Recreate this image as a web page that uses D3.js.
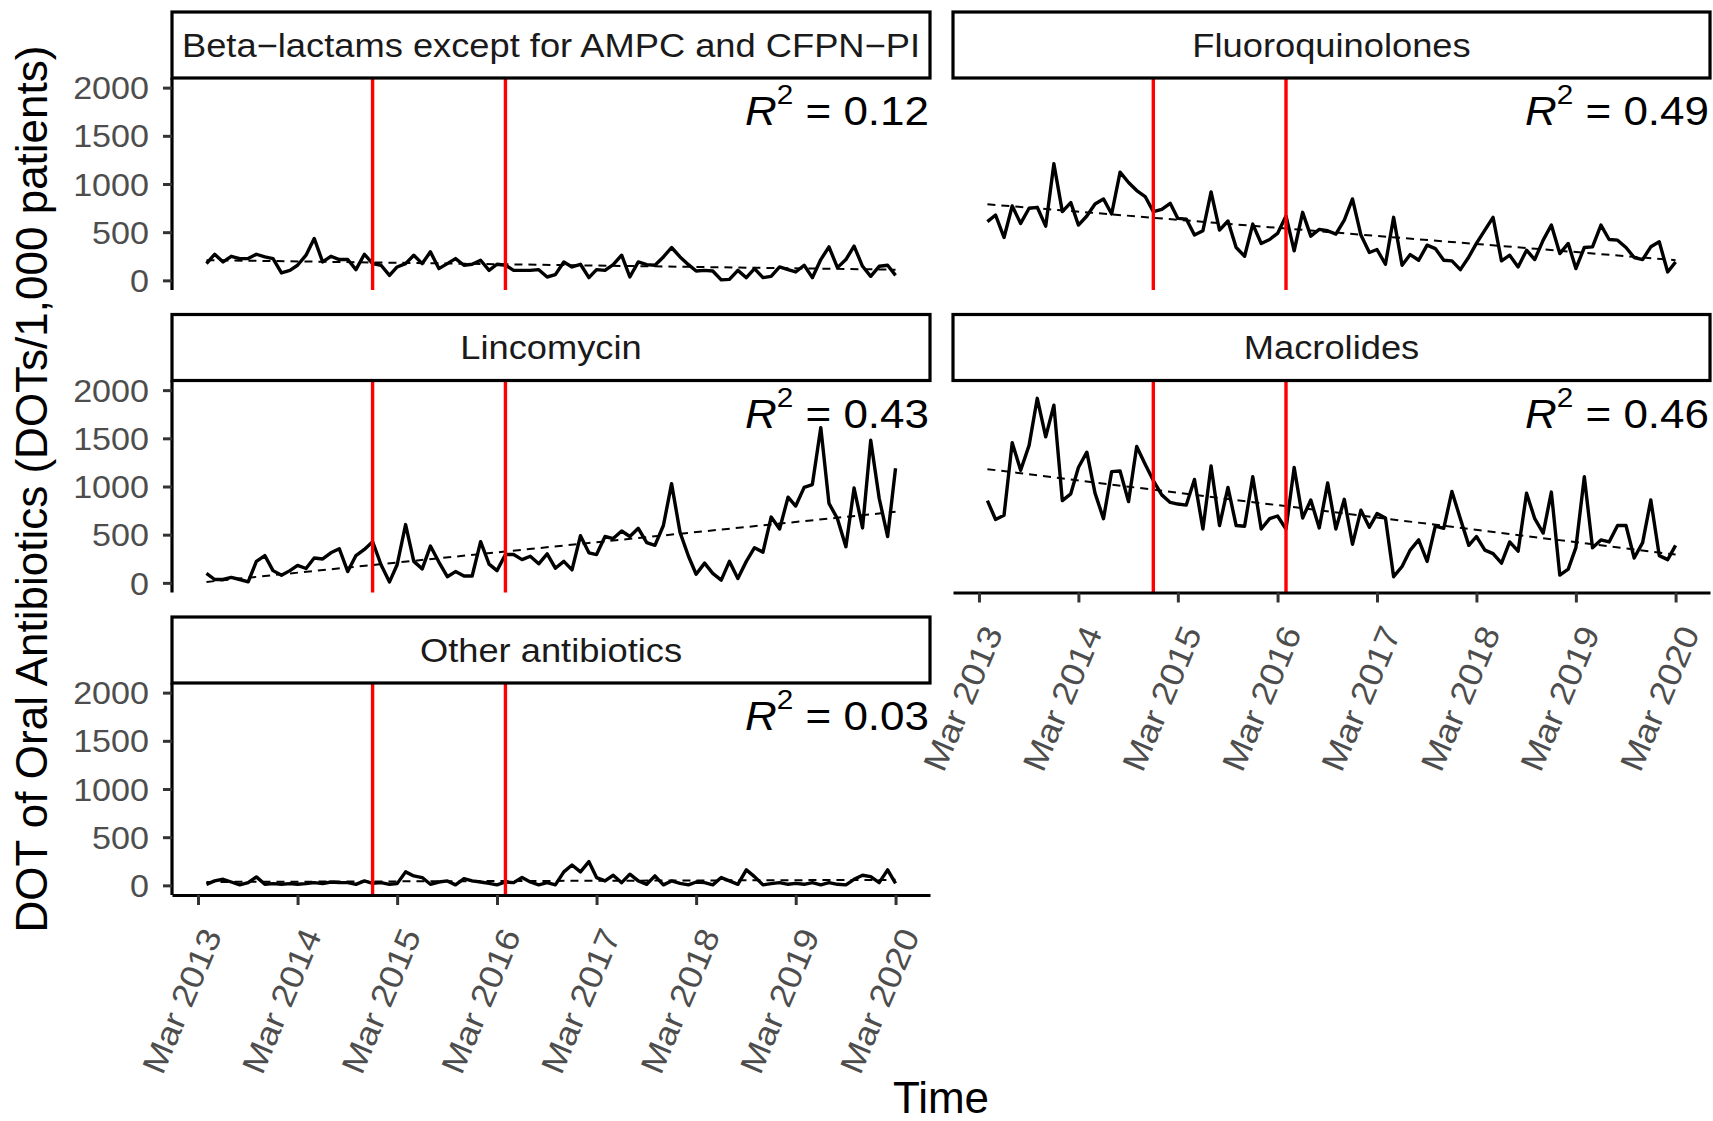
<!DOCTYPE html>
<html>
<head>
<meta charset="utf-8">
<script src="https://cdn.jsdelivr.net/npm/d3@7"></script>
<style>
  html, body { margin: 0; padding: 0; background: #ffffff; }
  svg { display: block; }
</style>
</head>
<body>
<script>
// ---------------- DATA ----------------
const stripLabels = [
  "Beta\u2212lactams except for AMPC and CFPN\u2212PI",
  "Fluoroquinolones",
  "Lincomycin",
  "Macrolides",
  "Other antibiotics"
];
const r2Labels = ["0.12", "0.49", "0.43", "0.46", "0.03"];

// Monthly DOTs/1,000 patients, Apr 2013 – Mar 2020 (84 months)
const betaLactams = [174,271,191,250,226,226,271,243,226,77,104,157,261,435,191,250,216,216,111,271,174,157,52,139,174,261,174,296,122,174,226,157,167,209,104,167,157,104,104,104,111,35,59,191,139,167,28,111,104,163,261,35,191,163,157,243,341,243,163,97,104,97,5,10,104,28,122,28,42,139,111,87,157,28,216,348,132,216,355,146,42,146,157,52];
const fluoroquinolones = [609,678,445,772,591,748,758,563,1210,713,807,574,668,793,845,689,1123,1016,932,870,713,737,800,643,636,470,515,918,522,616,341,250,584,383,424,487,668,306,706,459,529,515,480,626,845,470,289,320,167,654,157,268,209,365,330,209,202,111,243,383,522,654,202,261,139,313,216,417,574,278,383,122,341,348,574,424,417,341,237,216,348,400,87,191];
const lincomycin = [99,35,35,57,35,11,223,283,127,78,127,181,149,258,248,312,354,117,283,347,428,188,10,188,605,223,145,382,216,64,117,71,71,428,195,127,294,294,241,276,198,301,152,223,135,489,312,294,481,460,538,481,566,418,389,595,1030,524,276,89,205,99,28,223,46,223,365,319,683,559,889,797,991,1020,1611,825,666,375,984,570,1480,878,481,1189];
const macrolides = [853,658,701,1455,1168,1427,1915,1515,1844,853,924,1197,1356,931,666,1154,1161,843,1416,1232,1062,913,835,818,807,1073,559,1214,595,991,595,588,1101,559,666,694,559,1197,673,860,570,1037,559,867,400,754,577,719,673,64,170,340,446,223,588,566,949,666,389,481,340,304,205,425,329,931,666,517,942,81,142,365,1101,365,446,425,595,595,258,418,860,283,241,389];
const otherAntibiotics = [11,46,63,35,5,28,88,11,18,11,18,11,18,28,18,35,28,28,11,46,21,28,11,18,140,98,81,11,35,46,5,70,46,35,21,5,35,28,81,35,5,28,5,140,211,140,246,81,46,105,28,116,46,11,98,5,46,21,5,35,28,5,81,46,11,161,91,5,18,28,11,21,11,28,5,28,11,5,63,105,91,28,161,21];

const firstMonth = "2013-04-01";
const interventionDates = ["2014-12-01", "2016-04-01"];
const yTickValues = [0, 500, 1000, 1500, 2000];
const xTickDates = ["2013-03-01","2014-03-01","2015-03-01","2016-03-01","2017-03-01","2018-03-01","2019-03-01","2020-03-01"];
const xTickLabels = ["Mar 2013","Mar 2014","Mar 2015","Mar 2016","Mar 2017","Mar 2018","Mar 2019","Mar 2020"];
const xTitle = "Time";
const yTitle = "DOT of Oral Antibiotics (DOTs/1,000 patients)";

// ---------------- LAYOUT ----------------
const W = 1713, H = 1121;
const FONT = "'Liberation Sans', Arial, Helvetica, sans-serif";
const cols = [{x0: 172, x1: 930}, {x0: 953, x1: 1710}];
const rowPitch = 302.5;
const stripTop0 = 12, stripH = 66, panelBottom0 = 290;
const TXT_SX = 1.1;

const parse = d3.utcParse("%Y-%m-%d");
const start = parse(firstMonth);
const months = d3.utcMonth.range(start, d3.utcMonth.offset(start, betaLactams.length));
const seriesList = [betaLactams, fluoroquinolones, lincomycin, macrolides, otherAntibiotics];

const t0 = months[0].getTime(), t1 = months[months.length - 1].getTime();
const pad = (t1 - t0) * 0.05;

const svg = d3.select("body").append("svg")
  .attr("width", W).attr("height", H)
  .attr("viewBox", `0 0 ${W} ${H}`)
  .style("font-family", FONT);

svg.append("rect").attr("width", W).attr("height", H).attr("fill", "#ffffff");

function linFit(vals) {
  const n = vals.length;
  const xs = d3.range(n);
  const mx = d3.mean(xs), my = d3.mean(vals);
  let sxy = 0, sxx = 0;
  for (let i = 0; i < n; i++) { sxy += (xs[i]-mx)*(vals[i]-my); sxx += (xs[i]-mx)**2; }
  const b = sxy / sxx, a = my - b * mx;
  return i => a + b * i;
}

seriesList.forEach((vals, k) => {
  const r = Math.floor(k / 2), c = k % 2;
  const col = cols[c];
  const sTop = stripTop0 + r * rowPitch;
  const sBot = sTop + stripH;
  const pBot = panelBottom0 + r * rowPitch;
  const isBottom = (k === 3 || k === 4);

  const x = d3.scaleUtc().domain([new Date(t0 - pad), new Date(t1 + pad)]).range([col.x0, col.x1]);
  const y = d3.scaleLinear().domain([-100, 2100]).range([pBot, sBot]);

  const g = svg.append("g");

  // data line
  const line = d3.line().x((d, i) => x(months[i])).y(d => y(d)).curve(d3.curveLinear);
  g.append("path").datum(vals)
    .attr("d", line)
    .attr("fill", "none").attr("stroke", "#000").attr("stroke-width", 3.4)
    .attr("stroke-linejoin", "round").attr("stroke-linecap", "butt");

  // linear fit (dashed)
  const f = linFit(vals);
  g.append("line")
    .attr("x1", x(months[0])).attr("y1", y(f(0)))
    .attr("x2", x(months[months.length-1])).attr("y2", y(f(vals.length-1)))
    .attr("stroke", "#000").attr("stroke-width", 2).attr("stroke-dasharray", "8,6");

  // red intervention lines
  interventionDates.forEach(ds => {
    const xv = x(parse(ds));
    g.append("line").attr("x1", xv).attr("x2", xv).attr("y1", sBot).attr("y2", pBot)
      .attr("stroke", "#FF0000").attr("stroke-width", 3.4);
  });

  // strip
  g.append("rect").attr("x", col.x0).attr("y", sTop)
    .attr("width", col.x1 - col.x0).attr("height", stripH)
    .attr("fill", "#fff").attr("stroke", "#000").attr("stroke-width", 3.2);
  g.append("text")
    .attr("transform", `translate(${(col.x0 + col.x1) / 2},${sTop + stripH / 2}) scale(${TXT_SX},1)`)
    .attr("text-anchor", "middle").attr("dy", "0.36em")
    .attr("font-size", 33).attr("fill", "#1a1a1a")
    .text(stripLabels[k]);

  // R^2 label
  const rt = g.append("text")
    .attr("transform", `translate(${col.x1 - 1},${sBot + 47}) scale(${TXT_SX},1)`)
    .attr("text-anchor", "end").attr("font-size", 40).attr("fill", "#000");
  rt.append("tspan").attr("font-style", "italic").text("R");
  rt.append("tspan").attr("font-size", 27).attr("dy", -21).text("2");
  rt.append("tspan").attr("dy", 21).text(" = " + r2Labels[k]);

  // y axis (left column only)
  if (c === 0) {
    const ya = g.append("g").attr("transform", `translate(${col.x0},0)`)
      .call(d3.axisLeft(y).tickValues(yTickValues).tickFormat(d3.format("d"))
        .tickSize(9).tickSizeOuter(0).tickPadding(0));
    ya.select(".domain").attr("stroke", "#000").attr("stroke-width", 3.2)
      .attr("d", `M0,${pBot}V${sBot}`);
    ya.selectAll(".tick line").attr("stroke", "#333").attr("stroke-width", 3);
    ya.selectAll(".tick text")
      .attr("x", null).attr("dy", "0.36em")
      .attr("transform", `translate(-23,0) scale(${TXT_SX},1)`)
      .attr("text-anchor", "end")
      .attr("font-size", 31).attr("font-family", FONT).attr("fill", "#4D4D4D");
  }

  // x axis (bottom panel of each column)
  if (isBottom) {
    const xa = g.append("g").attr("transform", `translate(0,${pBot})`)
      .call(d3.axisBottom(x).tickValues(xTickDates.map(parse))
        .tickFormat((d, i) => xTickLabels[i]).tickSize(10).tickSizeOuter(0));
    xa.select(".domain").attr("stroke", "#000").attr("stroke-width", 3.2);
    xa.selectAll(".tick line").attr("stroke", "#333").attr("stroke-width", 3);
    xa.selectAll(".tick text")
      .attr("y", null).attr("dy", null)
      .attr("transform", `translate(24,40) rotate(-67) scale(${TXT_SX},1)`)
      .attr("text-anchor", "end")
      .attr("font-size", 33).attr("font-family", FONT).attr("fill", "#4D4D4D");
  }
});

// axis titles
svg.append("text")
  .attr("x", (cols[0].x0 + cols[1].x1) / 2).attr("y", 1113)
  .attr("text-anchor", "middle").attr("font-size", 44).attr("fill", "#000")
  .text(xTitle);
svg.append("text")
  .attr("transform", "translate(47,489) rotate(-90)")
  .attr("text-anchor", "middle").attr("font-size", 44).attr("fill", "#000")
  .text(yTitle);
</script>
</body>
</html>
